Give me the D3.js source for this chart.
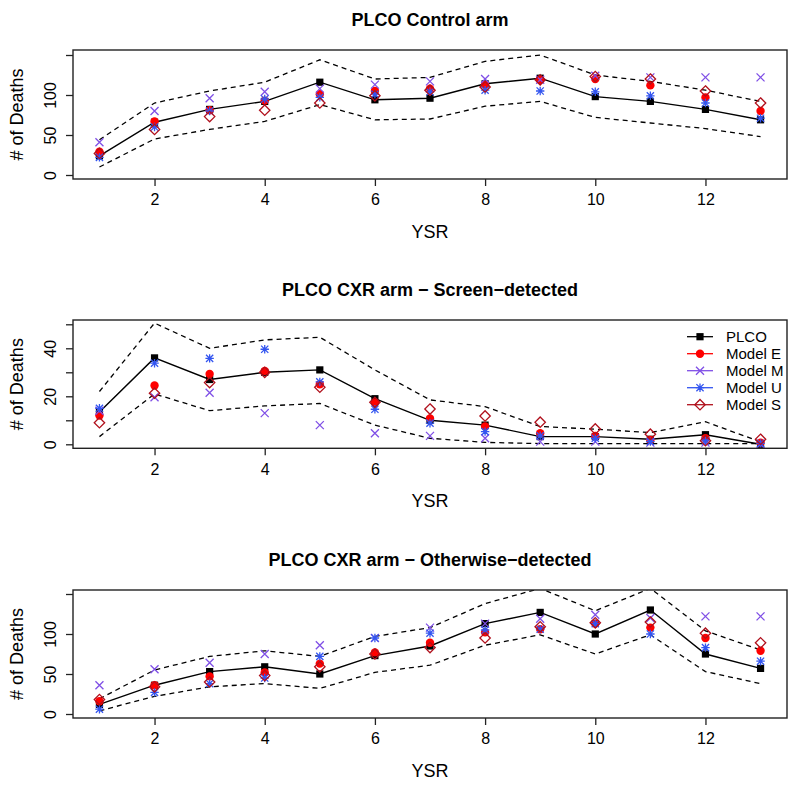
<!DOCTYPE html>
<html>
<head>
<meta charset="utf-8">
<script src="https://cdn.jsdelivr.net/npm/d3@7"></script>
<style>
  body { margin: 0; background: #fff; }
  text { font-family: "Liberation Sans", Arial, Helvetica, sans-serif; fill: #000; }
</style>
</head>
<body>
<svg id="chart" width="800" height="789"></svg>
<script>
// ---------- DATA ----------
const years = [1,2,3,4,5,6,7,8,9,10,11,12,13];
const xTicks = [2,4,6,8,10,12];
const seriesNames = ["PLCO", "Model E", "Model M", "Model U", "Model S"];

// Panel 1: PLCO Control arm
const ctrlPLCO  = [24, 66, 82, 92, 116, 94, 96, 114, 121, 98, 92, 82, 69];
const ctrlUpper = [44, 90, 105, 116, 144, 120, 122, 142, 150, 125, 117, 106, 92];
const ctrlLower = [10, 45, 57, 67, 88, 69, 70, 86, 92, 72, 65, 58, 48];
const ctrlE = [29, 67, 81, 93, 101, 105, 108, 113, 119, 120, 112, 97, 80];
const ctrlM = [41, 80, 96, 104, 108, 113, 117, 120, 119, 124, 122, 122, 122];
const ctrlU = [22, 60, 80, 95, 97, 101, 104, 106, 105, 104, 99, 90, 71];
const ctrlS = [27, 57, 73, 81, 90, 99, 106, 110, 119, 123, 120, 105, 90];
const ctrlYTicks = [0, 50, 100, 150];
const ctrlYLabels = [0, 50, 100];

// Panel 2: PLCO CXR arm - Screen-detected
const scrPLCO  = [13.5, 36, 27, 30, 31, 19, 10, 8, 3.2, 3.2, 2.1, 4, 0];
const scrUpper = [22, 50.5, 40, 43.5, 44.6, 31, 18.5, 15.7, 7.4, 6.3, 4.9, 9.4, 1];
const scrLower = [3.2, 21, 14, 16, 17, 8, 2.5, 0.8, 0.3, 0.3, 0.3, 0.3, 0.3];
const scrE = [12, 24.5, 29.3, 30.6, 25, 17.4, 10.8, 7.4, 4.6, 3.5, 1.8, 2.5, 0.7];
const scrM = [14, 19.6, 21.5, 13, 8, 4.6, 3.5, 2.5, 1.1, 1.1, 0.7, 0.7, 0];
const scrU = [15, 33.8, 35.8, 39.6, 26, 14.6, 8.8, 5.3, 3.5, 2.5, 1.1, 1.4, 0.4];
const scrS = [9, 21.3, 25.7, 30, 23.8, 17.5, 14.7, 11.8, 9.2, 6.4, 4.2, 1.5, 2.1];
const scrYTicks = [0, 10, 20, 30, 40, 50];
const scrYLabels = [0, 20, 40];

// Panel 3: PLCO CXR arm - Otherwise-detected
const othPLCO  = [12, 36, 53, 59, 50, 73, 85, 113, 127, 100, 130, 75, 57];
const othUpper = [19, 55, 72, 79, 72, 97, 108, 138, 157, 129, 157, 104, 80];
const othLower = [4, 22, 34, 38, 32, 52, 61, 86, 99, 75, 99, 53, 38];
const othE = [16, 36, 47, 52, 63, 77, 89, 102, 106, 113, 108, 95, 79];
const othM = [36, 56, 64, 75, 86, 95, 108, 113, 119, 124, 120, 122, 122];
const othU = [6, 27, 38, 45, 72, 95, 101, 105, 106, 113, 100, 83, 66];
const othS = [18, 34, 40, 48, 59, 75, 83, 95, 109, 114, 115, 101, 89];
const othYTicks = [0, 50, 100, 150];
const othYLabels = [0, 50, 100];

// ---------- STYLE ----------
const colors = { "PLCO": "#000000", "Model E": "#ff0000", "Model M": "#7f4fe6", "Model U": "#3355f0", "Model S": "#b0101c" };
const boxLeft = 73, boxRight = 787;

const panels = [
  { title: "PLCO Control arm", top: 50, bottom: 179, ydom: [-5, 156.25],
    plco: ctrlPLCO, upper: ctrlUpper, lower: ctrlLower, E: ctrlE, M: ctrlM, U: ctrlU, S: ctrlS,
    yTicks: ctrlYTicks, yLabels: ctrlYLabels, legend: false },
  { title: "PLCO CXR arm \u2212 Screen\u2212detected", top: 320, bottom: 448.3, ydom: [-1.667, 51.79],
    plco: scrPLCO, upper: scrUpper, lower: scrLower, E: scrE, M: scrM, U: scrU, S: scrS,
    yTicks: scrYTicks, yLabels: scrYLabels, legend: true },
  { title: "PLCO CXR arm \u2212 Otherwise\u2212detected", top: 590, bottom: 718, ydom: [-5, 155],
    plco: othPLCO, upper: othUpper, lower: othLower, E: othE, M: othM, U: othU, S: othS,
    yTicks: othYTicks, yLabels: othYLabels, legend: false }
];

const svg = d3.select("#chart");
const x = d3.scaleLinear().domain([0.52, 13.48]).range([boxLeft, boxRight]);

function drawSymbol(g, name, cx, cy) {
  const c = colors[name];
  if (name === "PLCO") {
    g.append("rect").attr("x", cx - 3.6).attr("y", cy - 3.6).attr("width", 7.2).attr("height", 7.2).attr("fill", c);
  } else if (name === "Model E") {
    g.append("circle").attr("cx", cx).attr("cy", cy).attr("r", 4.2).attr("fill", c);
  } else if (name === "Model M") {
    const r = 4;
    g.append("path").attr("d", `M${cx-r},${cy-r}L${cx+r},${cy+r}M${cx-r},${cy+r}L${cx+r},${cy-r}`)
      .attr("stroke", c).attr("stroke-width", 1.3).attr("fill", "none");
  } else if (name === "Model U") {
    const r = 4.2, d = 3.6;
    g.append("path").attr("d", `M${cx-r},${cy}L${cx+r},${cy}M${cx},${cy-r}L${cx},${cy+r}M${cx-d},${cy-d}L${cx+d},${cy+d}M${cx-d},${cy+d}L${cx+d},${cy-d}`)
      .attr("stroke", c).attr("stroke-width", 1.3).attr("fill", "none");
  } else if (name === "Model S") {
    const r = 5.2;
    g.append("path").attr("d", `M${cx},${cy-r}L${cx+r},${cy}L${cx},${cy+r}L${cx-r},${cy}Z`)
      .attr("stroke", c).attr("stroke-width", 1.3).attr("fill", "none");
  }
}

panels.forEach((p, i) => {
  const y = d3.scaleLinear().domain(p.ydom).range([p.bottom, p.top]);
  const g = svg.append("g");

  const clipId = "clip" + i;
  svg.append("clipPath").attr("id", clipId).append("rect")
    .attr("x", boxLeft).attr("y", p.top).attr("width", boxRight - boxLeft).attr("height", p.bottom - p.top);

  const line = d3.line().x((d, k) => x(years[k])).y(d => y(d));
  const plotG = g.append("g").attr("clip-path", `url(#${clipId})`);

  [p.upper, p.lower].forEach(arr => {
    plotG.append("path").datum(arr).attr("d", line)
      .attr("fill", "none").attr("stroke", "#000").attr("stroke-width", 1.3).attr("stroke-dasharray", "5,4");
  });
  plotG.append("path").datum(p.plco).attr("d", line)
    .attr("fill", "none").attr("stroke", "#000").attr("stroke-width", 1.4);

  const seriesData = { "PLCO": p.plco, "Model E": p.E, "Model M": p.M, "Model U": p.U, "Model S": p.S };
  seriesNames.forEach(name => {
    const sg = g.append("g");
    seriesData[name].forEach((v, k) => drawSymbol(sg, name, x(years[k]), y(v)));
  });

  g.append("rect").attr("x", boxLeft).attr("y", p.top).attr("width", boxRight - boxLeft).attr("height", p.bottom - p.top)
    .attr("fill", "none").attr("stroke", "#222").attr("stroke-width", 1.4);

  const xAxis = d3.axisBottom(x).tickValues(xTicks).tickSize(7).tickPadding(8).tickFormat(d3.format("d"));
  const xg = g.append("g").attr("transform", `translate(0,${p.bottom})`).call(xAxis);
  xg.select(".domain").remove();
  xg.selectAll(".tick line").attr("stroke", "#222").attr("stroke-width", 1.3);
  xg.selectAll(".tick text").attr("font-size", 16).attr("font-family", "Liberation Sans, Arial, sans-serif").attr("fill", "#000");

  const yAxis = d3.axisLeft(y).tickValues(p.yTicks).tickSize(7)
    .tickFormat(d => p.yLabels.includes(d) ? d : "");
  const yg = g.append("g").attr("transform", `translate(${boxLeft},0)`).call(yAxis);
  yg.select(".domain").remove();
  yg.selectAll(".tick line").attr("stroke", "#222").attr("stroke-width", 1.3);
  yg.selectAll(".tick text")
    .attr("font-size", 16).attr("font-family", "Liberation Sans, Arial, sans-serif").attr("fill", "#000")
    .attr("text-anchor", "middle").attr("x", 0).attr("dy", 0)
    .attr("transform", "translate(-23,0) rotate(-90)")
    .attr("dominant-baseline", "central");

  g.append("text").attr("x", (boxLeft + boxRight) / 2).attr("y", p.top - 24)
    .attr("text-anchor", "middle").attr("font-size", 18).attr("font-weight", "bold").text(p.title);
  g.append("text").attr("x", (boxLeft + boxRight) / 2).attr("y", p.bottom + 59)
    .attr("text-anchor", "middle").attr("font-size", 18).text("YSR");
  g.append("text").attr("transform", `translate(23,${(p.top + p.bottom) / 2}) rotate(-90)`)
    .attr("text-anchor", "middle").attr("font-size", 18).text("# of Deaths");

  if (p.legend) {
    const lg = g.append("g");
    seriesNames.forEach((name, k) => {
      const ly = 336.7 + k * 17;
      lg.append("line").attr("x1", 687).attr("x2", 713).attr("y1", ly).attr("y2", ly)
        .attr("stroke", colors[name]).attr("stroke-width", 1.3);
      drawSymbol(lg, name, 700, ly);
      lg.append("text").attr("x", 726).attr("y", ly).attr("dominant-baseline", "central")
        .attr("font-size", 15).text(name);
    });
  }
});
</script>
</body>
</html>
